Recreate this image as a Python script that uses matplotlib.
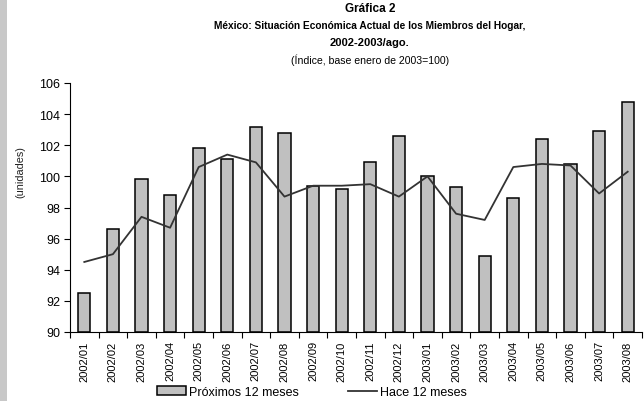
import matplotlib
matplotlib.use('Agg')
from matplotlib import pyplot as plt
from matplotlib.patches import Rectangle
import numpy as np

plt.rcParams['font.family'] = ['Liberation Sans', 'DejaVu Sans']

meses = ['2002/01', '2002/02', '2002/03', '2002/04', '2002/05', '2002/06', '2002/07',
         '2002/08', '2002/09', '2002/10', '2002/11', '2002/12', '2003/01', '2003/02',
         '2003/03', '2003/04', '2003/05', '2003/06', '2003/07', '2003/08']
proximos = [92.5, 96.6, 99.8, 98.8, 101.8, 101.1, 103.2, 102.8, 99.4, 99.2,
            100.9, 102.6, 100.0, 99.3, 94.9, 98.6, 102.4, 100.8, 102.9, 104.8]
hace = [94.5, 95.0, 97.4, 96.7, 100.6, 101.4, 100.9, 98.7, 99.4, 99.4,
        99.5, 98.7, 100.0, 97.6, 97.2, 100.6, 100.8, 100.7, 98.9, 100.3]

fig = plt.figure(figsize=(6.44, 4.02), dpi=100)
# franja gris a la izquierda
fig.patches.append(Rectangle((0, 0), 7 / 644, 1, transform=fig.transFigure,
                             facecolor='#c8c8c8', edgecolor='none'))

ax = fig.add_axes([70 / 644, 69 / 402, 572 / 644, 249 / 402])
x = np.arange(len(meses))
barras = ax.bar(x, [p - 90 for p in proximos], bottom=90, width=0.43, color='#c0c0c0',
                edgecolor='black', linewidth=1.1, label='Próximos 12 meses')
linea, = ax.plot(x, hace, color='#333333', linewidth=1.3, label='Hace 12 meses')

ax.set_xlim(-0.5, len(meses) - 0.5)
ax.set_ylim(90, 106)
ax.set_yticks(range(90, 107, 2))
ax.set_xticks(x)
ax.set_xticklabels(meses, rotation=90, fontsize=8)
ax.tick_params(axis='x', length=0, pad=6)
ax.set_xticks(np.arange(-0.5, len(meses), 1), minor=True)
ax.tick_params(axis='x', which='minor', length=4, direction='out', width=0.8)
ax.tick_params(axis='y', labelsize=9, length=4, width=0.8, pad=3)
for s in ['top', 'right']:
    ax.spines[s].set_visible(False)
for s in ['left', 'bottom']:
    ax.spines[s].set_linewidth(0.8)

fig.text(20 / 644, 1 - 172 / 402, '(unidades)', rotation=90, fontsize=7.8,
         ha='center', va='center', color='#222222')

cx = 370 / 644
fig.text(cx, 1 - 9 / 402, 'Gráfica 2', fontsize=8.5, fontweight='bold', ha='center', va='center')
fig.text(cx, 1 - 26 / 402, 'México: Situación Económica Actual de los Miembros del Hogar,',
         fontsize=7.3, fontweight='bold', ha='center', va='center')
fig.text(cx, 1 - 43 / 402, '2002-2003/ago.', fontsize=8, fontweight='bold', ha='center', va='center')
fig.text(cx, 1 - 60 / 402, '(Índice, base enero de 2003=100)', fontsize=7.6, ha='center', va='center')

fig.legend([barras, linea], ['Próximos 12 meses', 'Hace 12 meses'],
           loc='center', bbox_to_anchor=(312 / 644, 1 - 393 / 402), ncol=2, frameon=False,
           fontsize=9, handlelength=2.3, handleheight=0.65, handletextpad=0.25,
           columnspacing=3.9, borderpad=0)

fig.savefig('out.png', dpi=100)
